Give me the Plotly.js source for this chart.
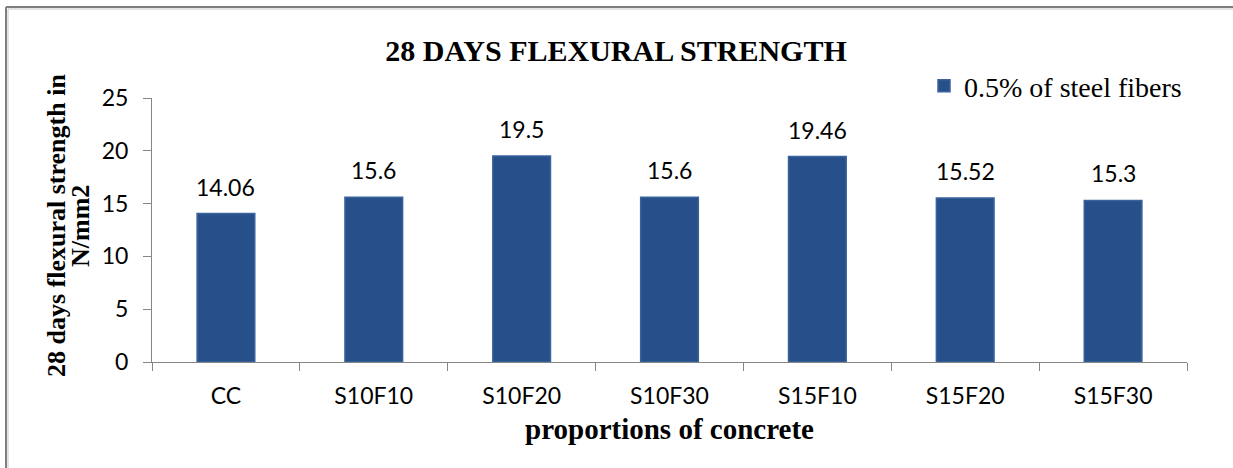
<!DOCTYPE html>
<html>
<head>
<meta charset="utf-8">
<script src="https://cdn.plot.ly/plotly-3.0.1.min.js"></script>
<style>
html,body{margin:0;padding:0;background:#fff;}
#chart{width:1233px;height:468px;}
</style>
</head>
<body>
<div id="chart"></div>
<script>
const categories = ["CC", "S10F10", "S10F20", "S10F30", "S15F10", "S15F20", "S15F30"];
const strength = [14.06, 15.6, 19.5, 15.6, 19.46, 15.52, 15.3];
const labels = ["14.06", "15.6", "19.5", "15.6", "19.46", "15.52", "15.3"];
const yTicks = [0, 5, 10, 15, 20, 25];
const seriesName = "0.5% of steel fibers";
const yTitleLines = ["28 days flexural strength in", "N/mm2"];

const L = 152, R = 1187, T = 98, B = 362, W = 1233, H = 468;
const px = v => (v - L) / (R - L);
const py = v => (B - v) / (B - T);

const serif = "'Liberation Serif', 'Times New Roman', serif";
const sans = "Lato, 'Open Sans', sans-serif";

const trace = {
  type: "bar",
  x: categories,
  y: strength,
  name: seriesName,
  marker: {color: "#27508a", line: {color: "#3a639c", width: 1.5}},
  hoverinfo: "x+y",
  showlegend: true
};

const annotations = categories.map((c, i) => ({
  x: c, y: strength[i], xref: "x", yref: "y",
  text: labels[i], showarrow: false,
  yanchor: "bottom", yshift: 11,
  font: {family: sans, size: 23, color: "#000"}
}));

// y-axis title, two tightly spaced lines as in the reference
[56, 80].forEach((xpos, i) => {
  annotations.push({
    xref: "paper", yref: "paper", x: px(xpos), y: py(226),
    xanchor: "center", yanchor: "middle",
    text: "<b>" + yTitleLines[i] + "</b>", textangle: -90, showarrow: false,
    font: {family: serif, size: 26, color: "#000"}
  });
});

const layout = {
  width: W, height: H,
  margin: {l: L, r: W - R, t: T, b: H - B, pad: 0},
  paper_bgcolor: "#fff", plot_bgcolor: "#fff",
  bargap: 0.61,
  title: {
    text: "<b>28 DAYS FLEXURAL STRENGTH</b>",
    font: {family: serif, size: 30, color: "#000"},
    x: 616 / W, xanchor: "center", xref: "container",
    y: 1 - 50 / H, yanchor: "middle", yref: "container"
  },
  xaxis: {
    type: "category",
    showline: true, linecolor: "#868686", linewidth: 1,
    ticks: "outside", tickson: "boundaries", ticklen: 8, tickcolor: "#868686",
    ticklabelstandoff: 13,
    tickfont: {family: sans, size: 23, color: "#000"},
    showgrid: false, zeroline: false,
    title: {
      text: "<b>proportions of concrete</b>",
      font: {family: serif, size: 29, color: "#000"},
      standoff: 11
    }
  },
  yaxis: {
    range: [0, 25], tickvals: yTicks, ticktext: yTicks.map(String),
    showline: true, linecolor: "#868686", linewidth: 1,
    ticks: "outside", ticklen: 8, tickcolor: "#868686",
    ticklabelstandoff: 10,
    tickfont: {family: sans, size: 23, color: "#000"},
    showgrid: false, zeroline: false
  },
  legend: {
    x: 1.0, xanchor: "right", y: py(86), yanchor: "middle",
    bgcolor: "rgba(0,0,0,0)",
    font: {family: serif, size: 28, color: "#000"},
    itemwidth: 30
  },
  annotations: annotations,
  shapes: [
    {type: "line", xref: "paper", yref: "paper", x0: px(6), x1: px(6), y0: py(7), y1: py(470), line: {color: "#7f7f7f", width: 2}},
    {type: "line", xref: "paper", yref: "paper", x0: px(6), x1: px(1240), y0: py(7), y1: py(7), line: {color: "#7f7f7f", width: 2}},
    {type: "line", xref: "paper", yref: "paper", x0: px(8), x1: px(8), y0: py(9), y1: py(470), line: {color: "#c8c8c8", width: 1}},
    {type: "line", xref: "paper", yref: "paper", x0: px(8), x1: px(1240), y0: py(9), y1: py(9), line: {color: "#c8c8c8", width: 1}}
  ]
};

Plotly.newPlot("chart", [trace], layout, {displayModeBar: false, responsive: false});
</script>
</body>
</html>
